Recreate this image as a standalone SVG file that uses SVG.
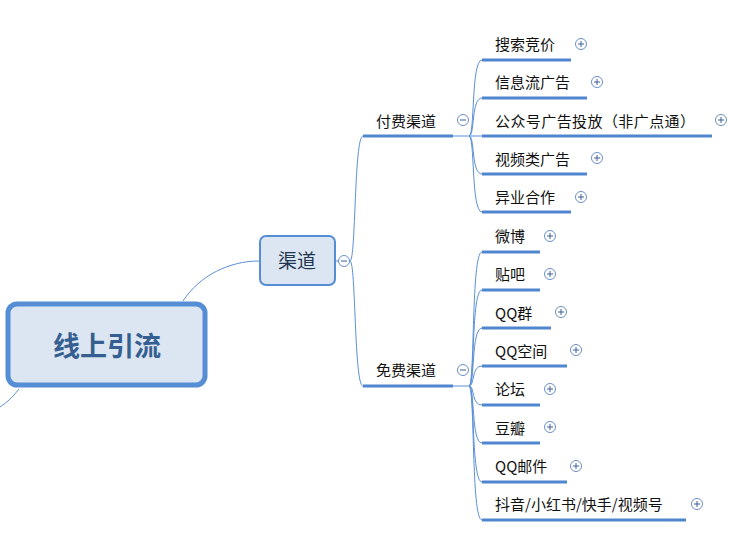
<svg xmlns="http://www.w3.org/2000/svg" width="751" height="534" viewBox="0 0 751 534">
<style>
text{font-family:"Noto Sans CJK SC","Liberation Sans",sans-serif;}
.c{fill:none;stroke:#5b8fd6;stroke-width:1}
.u{stroke:#4f86cf;stroke-width:3}
.t{font-size:15px;fill:#111}
</style>
<defs>
<g id="plus"><circle r="5.5" fill="#fff" stroke="#6a8fc8" stroke-width="1"/><path d="M-3 0H3M0 -3V3" stroke="#3a5f99" stroke-width="1"/></g>
<g id="minus"><circle r="5.5" fill="#fff" stroke="#6a8fc8" stroke-width="1"/><path d="M-3 0H3" stroke="#3a5f99" stroke-width="1"/></g>
</defs>
<rect width="751" height="534" fill="#fff"/>
<g id="connectors">
<path class="c" d="M183 301 C200 275 230 261 259 261"/>
<path class="c" d="M19 389 C12 398 6 403 0 407"/>
<path class="c" d="M335 261 H350 M350 261 C356 261 354 136 363 136 M350 261 C356 261 354 386 363 386"/>
<path class="c" d="M453 136 H469"/>
<path class="c" d="M469 136 C475 136 471 60 482 60 M469 136 C475 136 471 98 482 98 M469 136 H482 M469 136 C475 136 471 174 482 174 M469 136 C475 136 471 212 482 212"/>
<path class="c" d="M453 386 H469"/>
<path class="c" d="M469 386 C475 386 471 252 482 252 M469 386 C475 386 471 290 482 290 M469 386 C475 386 471 328 482 328 M469 386 C475 386 471 366 482 366 M469 386 C475 386 471 405 482 405 M469 386 C475 386 471 443 482 443 M469 386 C475 386 471 482 482 482 M469 386 C475 386 471 520 482 520"/>
</g>
<g id="root">
<rect x="8" y="304" width="197" height="81" rx="9" fill="#dce6f2" stroke="#558ed5" stroke-width="5"/>
<text x="107" y="356" text-anchor="middle" font-size="27" font-weight="bold" fill="#355f91">线上引流</text>
</g>
<g id="qudao">
<rect x="260" y="236" width="75" height="49" rx="6" fill="#dce6f2" stroke="#558ed5" stroke-width="2"/>
<text x="297" y="268" text-anchor="middle" font-size="19" fill="#1f3550">渠道</text>
<use href="#minus" x="344" y="261"/>
</g>
<g id="fufei">
<line class="u" x1="363" y1="136" x2="453" y2="136"/>
<text class="t" x="376" y="127">付费渠道</text>
<use href="#minus" x="463" y="120"/>
</g>
<g id="mianfei">
<line class="u" x1="363" y1="386" x2="453" y2="386"/>
<text class="t" x="376" y="376">免费渠道</text>
<use href="#minus" x="463" y="370"/>
</g>
<g id="n1"><line class="u" x1="482" y1="60" x2="571" y2="60"/><text class="t" x="495" y="50">搜索竞价</text><use href="#plus" x="581" y="44"/></g>
<g id="n2"><line class="u" x1="482" y1="98" x2="587" y2="98"/><text class="t" x="495" y="88">信息流广告</text><use href="#plus" x="597" y="82"/></g>
<g id="n3"><line class="u" x1="482" y1="136" x2="712" y2="136"/><text class="t" x="495" y="127" textLength="200">公众号广告投放（非广点通）</text><use href="#plus" x="721" y="120"/></g>
<g id="n4"><line class="u" x1="482" y1="174" x2="587" y2="174"/><text class="t" x="495" y="165">视频类广告</text><use href="#plus" x="597" y="158"/></g>
<g id="n5"><line class="u" x1="482" y1="212" x2="571" y2="212"/><text class="t" x="495" y="203">异业合作</text><use href="#plus" x="581" y="197"/></g>
<g id="m1"><line class="u" x1="482" y1="252" x2="540" y2="252"/><text class="t" x="495" y="242">微博</text><use href="#plus" x="550" y="236"/></g>
<g id="m2"><line class="u" x1="482" y1="290" x2="540" y2="290"/><text class="t" x="495" y="280">贴吧</text><use href="#plus" x="550" y="274"/></g>
<g id="m3"><line class="u" x1="482" y1="328" x2="551" y2="328"/><text class="t" x="495" y="319">QQ群</text><use href="#plus" x="561" y="312"/></g>
<g id="m4"><line class="u" x1="482" y1="366" x2="567" y2="366"/><text class="t" x="495" y="357">QQ空间</text><use href="#plus" x="576" y="350"/></g>
<g id="m5"><line class="u" x1="482" y1="405" x2="540" y2="405"/><text class="t" x="495" y="395">论坛</text><use href="#plus" x="550" y="389"/></g>
<g id="m6"><line class="u" x1="482" y1="443" x2="540" y2="443"/><text class="t" x="495" y="434">豆瓣</text><use href="#plus" x="550" y="427"/></g>
<g id="m7"><line class="u" x1="482" y1="482" x2="567" y2="482"/><text class="t" x="495" y="472">QQ邮件</text><use href="#plus" x="576" y="466"/></g>
<g id="m8"><line class="u" x1="482" y1="520" x2="686" y2="520"/><text class="t" x="495" y="510">抖音/小红书/快手/视频号</text><use href="#plus" x="697" y="504"/></g>
</svg>
